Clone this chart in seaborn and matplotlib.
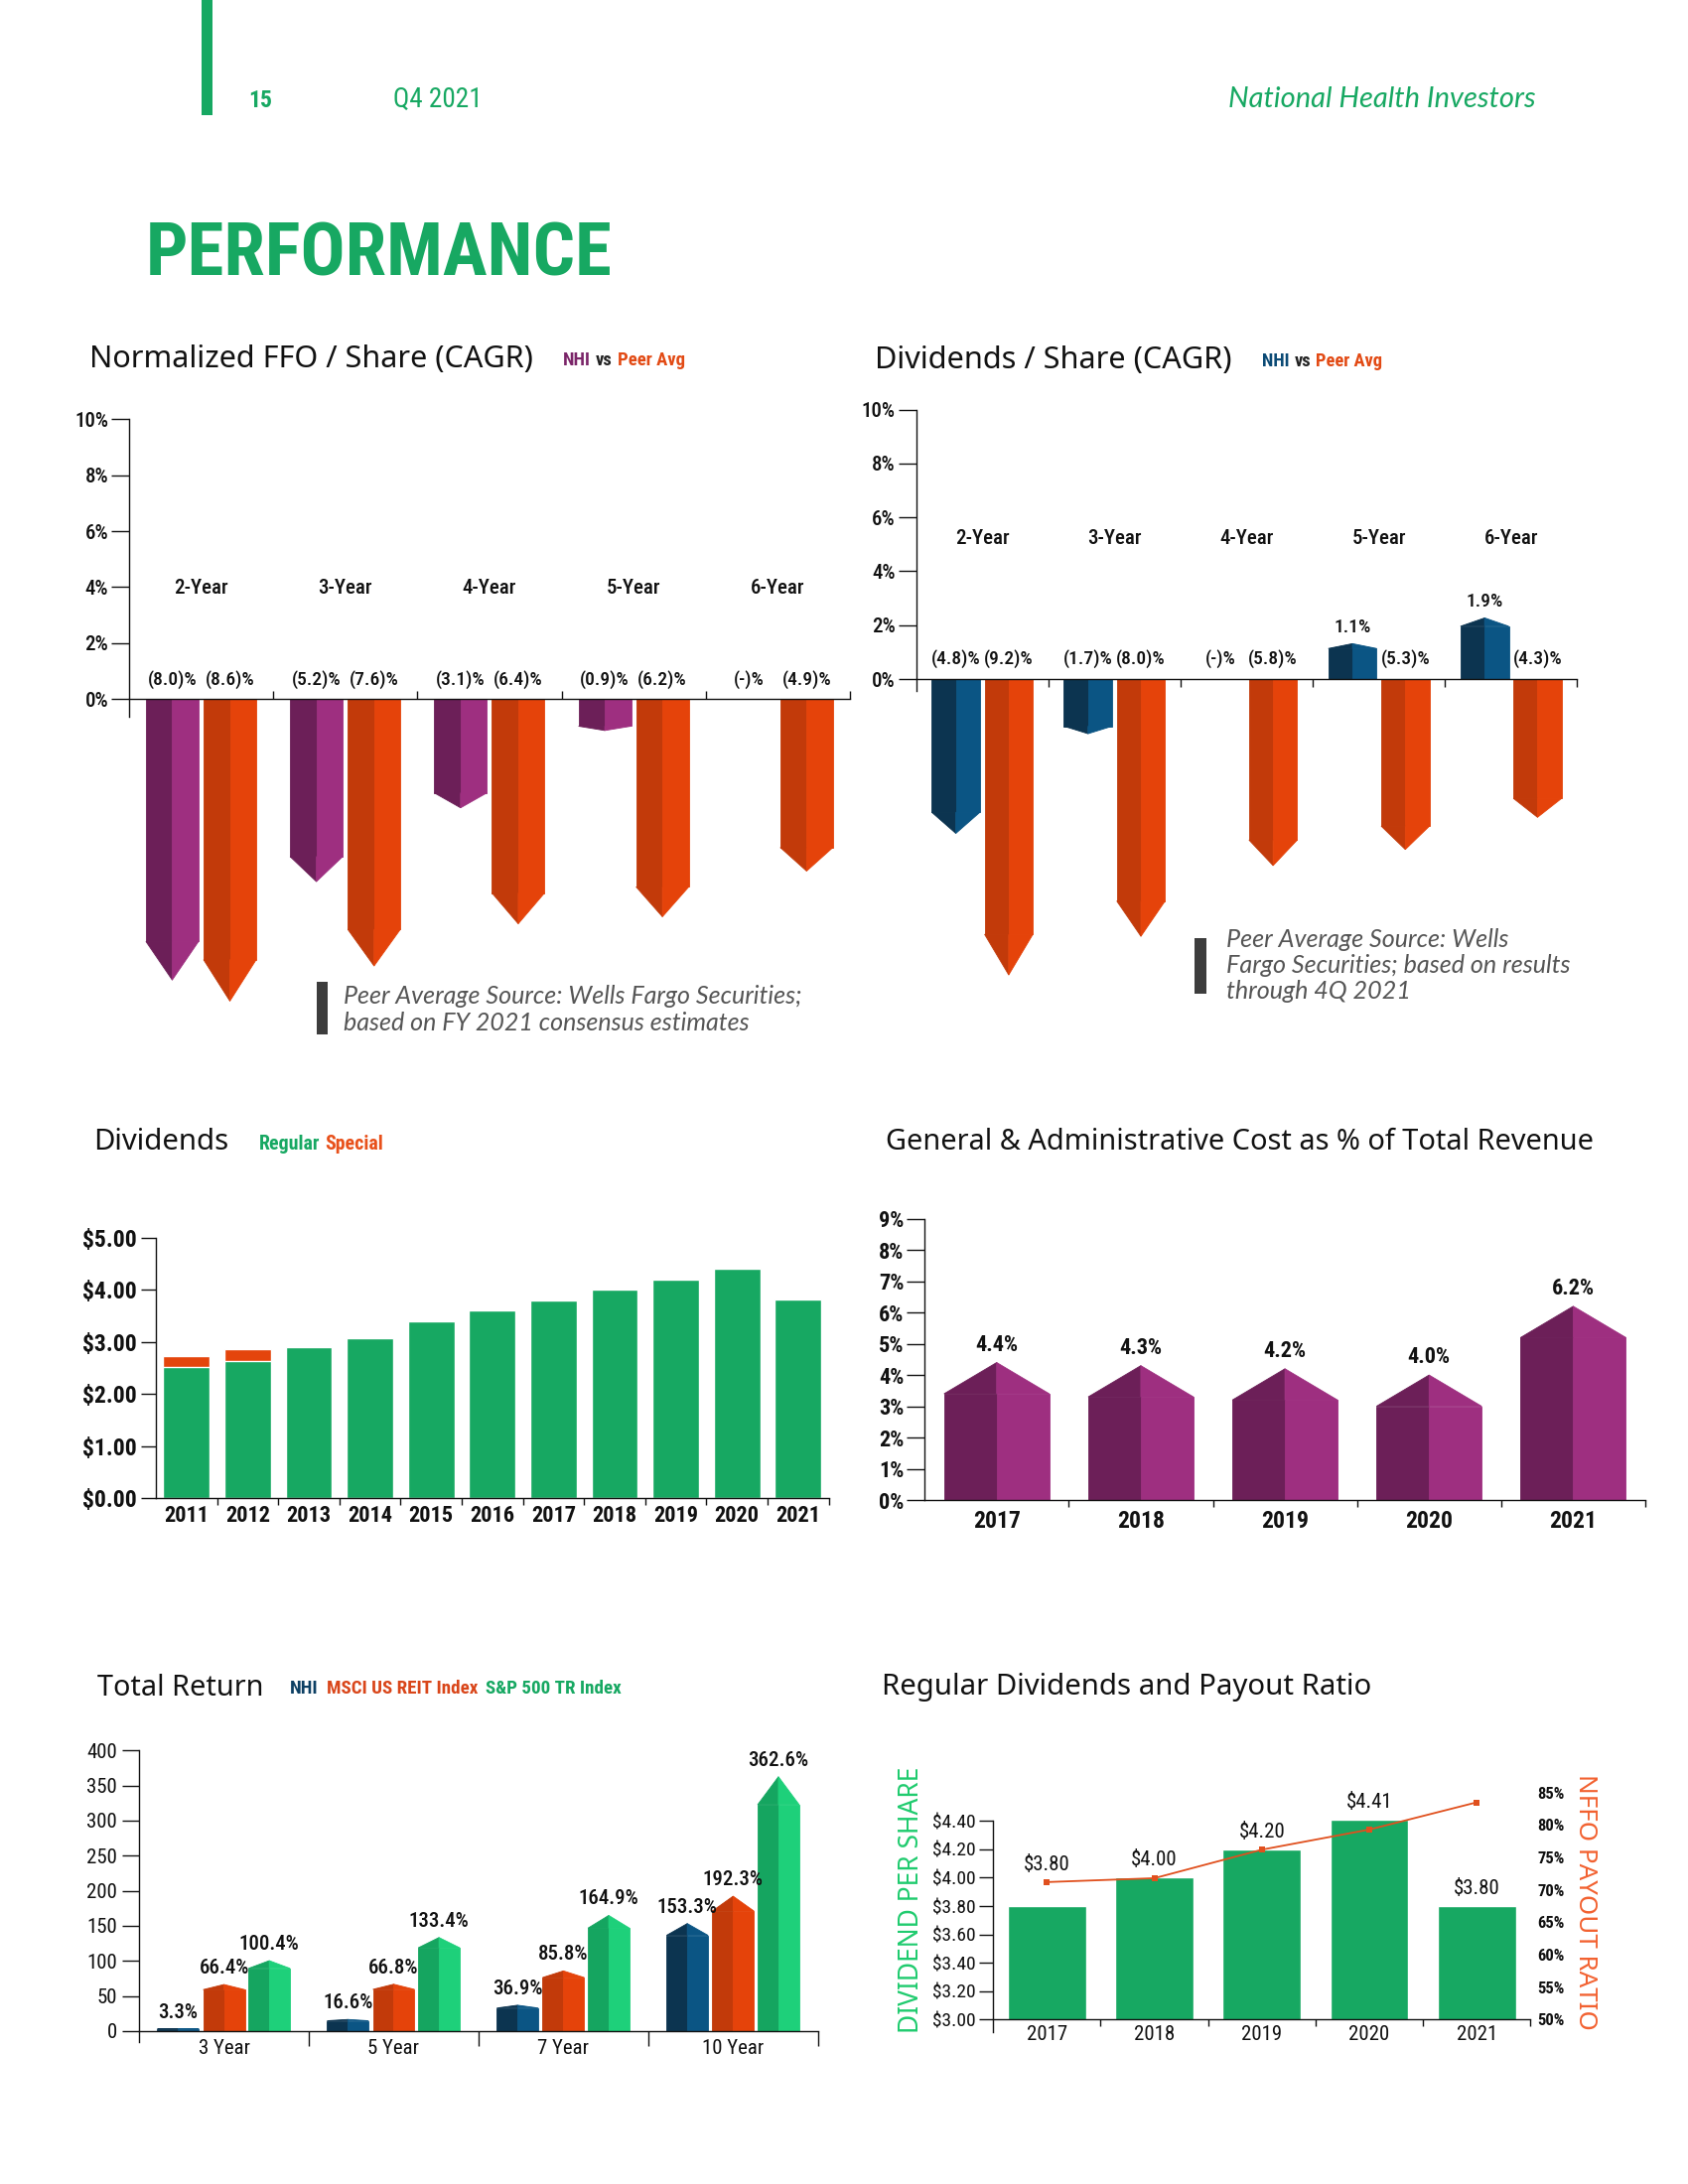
import numpy as np
import pandas as pd
import seaborn as sns
import matplotlib.pyplot as plt
from matplotlib.patches import Rectangle

# ---------------- data ----------------
periods = ["2-Year", "3-Year", "4-Year", "5-Year", "6-Year"]
ffo_nhi = [-8.0, -5.2, -3.1, -0.9, 0.0]
ffo_peer = [-8.6, -7.6, -6.4, -6.2, -4.9]
dps_nhi = [-4.8, -1.7, 0.0, 1.1, 1.9]
dps_peer = [-9.2, -8.0, -5.8, -5.3, -4.3]
cagr_ticks = [0, 2, 4, 6, 8, 10]

div_years = ["2011", "2012", "2013", "2014", "2015", "2016", "2017", "2018", "2019", "2020", "2021"]
div_regular = [2.52, 2.64, 2.90, 3.08, 3.40, 3.60, 3.80, 4.00, 4.20, 4.41, 3.81]
div_special = [0.22, 0.23, 0, 0, 0, 0, 0, 0, 0, 0, 0]

ga_years = ["2017", "2018", "2019", "2020", "2021"]
ga_pct = [4.4, 4.3, 4.2, 4.0, 6.2]

tr_periods = ["3 Year", "5 Year", "7 Year", "10 Year"]
tr_nhi = [3.3, 16.6, 36.9, 153.3]
tr_reit = [66.4, 66.8, 85.8, 192.3]
tr_sp500 = [100.4, 133.4, 164.9, 362.6]

reg_years = ["2017", "2018", "2019", "2020", "2021"]
reg_div = [3.80, 4.00, 4.20, 4.41, 3.80]
payout = [71.2, 71.8, 76.2, 79.3, 83.5]

# ---------------- colours ----------------
GREEN = "#17A862"
SPECIAL = "#E4450C"
PURPLE = ("#6C1F58", "#9E2F80")
ORANGE = ("#C23A0A", "#E5430A")
BLUE = ("#0C3450", "#0B5584")
SPGREEN = ("#15A560", "#1ED07A")
INK = "#111111"

sns.set_style("ticks")
NARROW = ["Roboto Condensed", "Liberation Sans Narrow", "Roboto", "DejaVu Sans"]
plt.rcParams["font.family"] = NARROW
plt.rcParams["axes.edgecolor"] = INK
plt.rcParams["axes.linewidth"] = 1.0
plt.rcParams["xtick.color"] = INK
plt.rcParams["ytick.color"] = INK
plt.rcParams["text.color"] = INK
plt.rcParams["axes.facecolor"] = "none"

TITLE_FONT = ["Noto Sans", "DejaVu Sans"]
NOTE_FONT = ["Lato", "DejaVu Sans"]

W, H = 1700, 2200
fig = plt.figure(figsize=(17, 22), dpi=100)
fig.patch.set_facecolor("white")
renderer = fig.canvas.get_renderer()


def box(x0, y0, x1, y1):
    return [x0 / W, 1 - y1 / H, (x1 - x0) / W, (y1 - y0) / H]


def ftext(x, y, s, **kw):
    return fig.text(x / W, 1 - y / H, s, **kw)


def fit(t, target, along="width"):
    bb = t.get_window_extent(renderer)
    cur = bb.width if along == "width" else bb.height
    t.set_fontsize(t.get_fontsize() * target / cur)


def legend_row(x, y, parts, target, gap=5):
    texts = [ftext(x, y, s, color=c, fontsize=14, weight="bold", va="center") for s, c in parts]
    widths = [t.get_window_extent(renderer).width for t in texts]
    k = (target - gap * (len(texts) - 1)) / sum(widths)
    for t in texts:
        t.set_fontsize(14 * k)
        t.set_x(x / W)
        x += t.get_window_extent(renderer).width + gap


def title(x, y, s, width):
    t = ftext(x, y, s, fontsize=18, family=TITLE_FONT, va="center", color=INK)
    fit(t, width)


def arrow_bars(ax, xs, vals, width, tip, colors):
    # two-tone bar with a pointed end; apex sits at the value
    vals = np.asarray(vals, dtype=float)
    body = vals - tip(vals)
    body[vals == 0] = 0
    for dx, c in ((-width / 4, colors[0]), (width / 4, colors[1])):
        ax.bar(xs + dx, body, width=width / 2, color=c, edgecolor=c, linewidth=0.6)
    for x, v, b in zip(xs, vals, body):
        if v == 0:
            continue
        ax.fill([x - width / 2, x, x], [b, v, b], color=colors[0], linewidth=0.6)
        ax.fill([x, x, x + width / 2], [b, v, b], color=colors[1], linewidth=0.6)


def bold_ticks(ax, axis="both"):
    labels = []
    if axis in ("both", "x"):
        labels += ax.get_xticklabels()
    if axis in ("both", "y"):
        labels += ax.get_yticklabels()
    for lbl in labels:
        lbl.set_fontweight("bold")


def cagr_chart(x0, x1, y10, y0, ybot, bar_scale, ybar_bot, nhi, peer, nhi_colors,
               tick_dir, label_y, group_y):
    s = (y0 - y10) / 10
    xs = np.arange(len(periods))
    axb = fig.add_axes(box(x0, y10, x1, ybar_bot))
    axb.set_xlim(-0.5, 4.5)
    axb.set_ylim(-(ybar_bot - y0) / bar_scale, (y0 - y10) / bar_scale)
    axb.axis("off")
    arrow_bars(axb, xs - 0.2, nhi, 0.365, lambda v: 0.137 * v, nhi_colors)
    arrow_bars(axb, xs + 0.2, peer, 0.365, lambda v: 0.137 * v, ORANGE)

    ax = fig.add_axes(box(x0, y10, x1, ybot))
    ax.set_xlim(-0.5, 4.5)
    ax.set_ylim(-(ybot - y0) / s, 10)
    ax.spines[["top", "right"]].set_visible(False)
    ax.spines["bottom"].set_position(("data", 0))
    ax.set_yticks(cagr_ticks, [f"{t}%" for t in cagr_ticks])
    ax.set_xticks([])
    ax.set_xticks(xs + 0.5, minor=True)
    ax.tick_params(axis="y", length=13, width=1, pad=2, labelsize=15)
    ax.tick_params(axis="x", which="minor", length=6, width=1, direction=tick_dir)
    for lbl in ax.get_yticklabels():
        lbl.set_fontweight("medium")
    for x, p in zip(xs, periods):
        ax.text(x, group_y, p, ha="center", va="center", fontsize=15, weight="medium")
    for off, vals in ((-0.2, nhi), (0.2, peer)):
        for x, v in zip(xs + off, vals):
            if v > 0:
                axb.annotate(f"{v:.1f}%", (x, v), xytext=(0, 5), textcoords="offset points",
                             ha="center", va="bottom", fontsize=14, weight="medium")
            else:
                txt = "(-)%" if v == 0 else f"({-v:.1f})%"
                ax.text(x, label_y, txt, ha="center", va="center", fontsize=14, weight="medium")


# ---------------- header ----------------
fig.add_artist(Rectangle((203 / W, 1 - 116 / H), 11 / W, 116 / H, transform=fig.transFigure,
                         color=GREEN, linewidth=0))
t = ftext(250, 101, "15", color=GREEN, fontsize=17, weight="bold", va="center")
fit(t, 24)
t = ftext(396, 100, "Q4 2021", color=GREEN, fontsize=17, va="center")
fit(t, 90)
t = ftext(1237, 100, "National Health Investors", color=GREEN, fontsize=17, style="italic",
          family=NOTE_FONT, va="center")
fit(t, 310)
t = ftext(147, 258, "PERFORMANCE", color=GREEN, fontsize=60, weight="bold", va="center")
fit(t, 470)

# ---------------- Normalized FFO / Share ----------------
title(90, 362, "Normalized FFO / Share (CAGR)", 446)
legend_row(567, 363, [("NHI", "#7A2468"), ("vs", "#222222"), ("Peer Avg", "#E24A14")], 123)
cagr_chart(129.9, 855.9, 422.4, 704, 722, 35.4, 1060, ffo_nhi, ffo_peer, PURPLE,
           "in", 0.68, 3.96)
fig.add_artist(Rectangle((318.7 / W, 1 - 1042 / H), 11 / W, 53 / H, transform=fig.transFigure,
                         color="#3D3D3D", linewidth=0))
n1 = ftext(346, 1004, "Peer Average Source: Wells Fargo Securities;", color="#555555",
           fontsize=15, style="italic", family=NOTE_FONT, va="center")
fit(n1, 463)
ftext(346, 1031, "based on FY 2021 consensus estimates", color="#555555",
      fontsize=n1.get_fontsize(), style="italic", family=NOTE_FONT, va="center")

# ---------------- Dividends / Share ----------------
title(881, 363, "Dividends / Share (CAGR)", 359)
legend_row(1271, 364, [("NHI", "#0B4A75"), ("vs", "#222222"), ("Peer Avg", "#E24A14")], 122)
cagr_chart(922.7, 1588.4, 412.6, 684, 696, 32.4, 1010, dps_nhi, dps_peer, BLUE,
           "out", 0.74, 5.2)
fig.add_artist(Rectangle((1202.8 / W, 1 - 1000.5 / H), 11.8 / W, 55.8 / H, transform=fig.transFigure,
                         color="#3D3D3D", linewidth=0))
n2 = ftext(1235, 973, "Fargo Securities; based on results", color="#555555",
           fontsize=15, style="italic", family=NOTE_FONT, va="center")
fit(n2, 348)
for yy, line in ((947, "Peer Average Source: Wells"), (999, "through 4Q 2021")):
    ftext(1235, yy, line, color="#555555", fontsize=n2.get_fontsize(), style="italic",
          family=NOTE_FONT, va="center")

# ---------------- Dividends ----------------
title(94, 1151, "Dividends", 136)
legend_row(261, 1152, [("Regular", GREEN), ("Special", "#E8501A")], 126)
ax = fig.add_axes(box(157, 1247, 834.5, 1509.3))
div_df = pd.DataFrame({"year": div_years, "regular": div_regular,
                       "total": np.add(div_regular, div_special)})
sns.barplot(data=div_df, x="year", y="total", color=SPECIAL, width=0.76, saturation=1,
            errorbar=None, ax=ax)
sns.barplot(data=div_df, x="year", y="regular", color=GREEN, width=0.76, saturation=1,
            errorbar=None, ax=ax)
ax.set_xlim(-0.5, 10.5)
ax.set_ylim(0, 5)
ax.set_yticks(np.arange(6), [f"${v:.2f}" for v in range(6)])
ax.set_xlabel("")
ax.set_ylabel("")
ax.set_xticks(np.arange(0.5, 11, 1), minor=True)
ax.tick_params(axis="x", which="major", length=0, pad=5, labelsize=16)
ax.tick_params(axis="x", which="minor", length=5, width=1, direction="out")
ax.tick_params(axis="y", length=11, width=1, pad=3, labelsize=17)
bold_ticks(ax)
sns.despine(ax=ax)

# ---------------- G&A ----------------
title(892, 1151, "General & Administrative Cost as % of Total Revenue", 711)
ax = fig.add_axes(box(931.2, 1227.7, 1657, 1511))
xs = np.arange(len(ga_years))
arrow_bars(ax, xs, ga_pct, 0.73, lambda v: np.ones_like(v), PURPLE)
ax.set_xlim(-0.5, 4.5)
ax.set_ylim(0, 9)
ax.set_yticks(np.arange(10), [f"{v}%" for v in range(10)])
ax.set_xticks(xs, ga_years)
ax.set_xticks(xs + 0.5, minor=True)
ax.tick_params(axis="x", which="major", length=0, pad=7, labelsize=17)
ax.tick_params(axis="x", which="minor", length=5, width=1, direction="out")
ax.tick_params(axis="y", length=13, width=1, pad=2, labelsize=16)
bold_ticks(ax)
for x, v in zip(xs, ga_pct):
    ax.annotate(f"{v:.1f}%", (x, v), xytext=(0, 5), textcoords="offset points",
                ha="center", va="bottom", fontsize=16, weight="bold")
sns.despine(ax=ax)

# ---------------- Total Return ----------------
title(98, 1700, "Total Return", 167)
legend_row(292, 1701, [("NHI", "#0C3F63"), ("MSCI US REIT Index", "#D9461A"),
                       ("S&P 500 TR Index", GREEN)], 335, gap=8)
ax = fig.add_axes(box(140.1, 1763.3, 823.8, 2057))
xs = np.arange(len(tr_periods))
tr_offsets = (-0.27, 0.0, 0.267)
for off, vals, cols in zip(tr_offsets, (tr_nhi, tr_reit, tr_sp500), (BLUE, ORANGE, SPGREEN)):
    arrow_bars(ax, xs + off, vals, 0.245, lambda v: 0.11 * v, cols)
    for x, v in zip(xs + off, vals):
        ax.annotate(f"{v:.1f}%", (x, v), xytext=(0, 5), textcoords="offset points",
                    ha="center", va="bottom", fontsize=15, weight="medium")
ax.set_xlim(-0.5, 3.5)
ax.set_ylim(-15.6, 400)
ax.spines[["top", "right"]].set_visible(False)
ax.spines["bottom"].set_position(("data", 0))
ax.set_yticks(np.arange(0, 401, 50))
ax.set_xticks(xs, tr_periods)
ax.set_xticks(xs + 0.5, minor=True)
ax.tick_params(axis="x", which="major", length=0, pad=6, labelsize=15)
ax.tick_params(axis="x", which="minor", length=11, width=1, direction="out")
ax.tick_params(axis="y", length=12, width=1, pad=4, labelsize=15)

# ---------------- Regular Dividends and Payout Ratio ----------------
title(888, 1699, "Regular Dividends and Payout Ratio", 492)
ax = fig.add_axes(box(1000.3, 1784.3, 1541.3, 2034.3))
sns.barplot(x=reg_years, y=reg_div, color=GREEN, width=0.73, saturation=1, errorbar=None, ax=ax)
ax.set_xlim(-0.5, 4.5)
ax.set_ylim(3.0, 4.75)
ax.set_yticks(np.arange(3.0, 4.41, 0.2), [f"${v:.2f}" for v in np.arange(3.0, 4.41, 0.2)])
ax.set_xticks(np.arange(0.5, 5, 1), minor=True)
ax.tick_params(axis="x", which="major", length=0, pad=4, labelsize=15)
ax.tick_params(axis="x", which="minor", length=5, width=1, direction="out")
ax.tick_params(axis="y", length=10, width=1, pad=3, labelsize=14)
ax.spines[["top", "right"]].set_visible(False)
ax.spines["left"].set_bounds(2.913, 4.40)

ax2 = ax.twinx()
sns.lineplot(x=np.arange(len(reg_years)), y=payout, ax=ax2, color="#E0501E", linewidth=1.3,
             marker="s", markersize=5, markeredgewidth=0)
ax2.set_xlim(-0.5, 4.5)
ax2.set_ylim(50, 50 + 250 / 6.53)
ax2.set_yticks(np.arange(50, 86, 5), [f"{v}%" for v in range(50, 86, 5)])
ax2.tick_params(axis="y", length=0, pad=5, labelsize=12)
for sp in ax2.spines.values():
    sp.set_visible(False)
bold_ticks(ax2, "y")
ax2.set_ylabel("")
ax2.set_xlabel("")

for i, (v, p) in enumerate(zip(reg_div, payout)):
    yb = ax.transData.transform((i, v))[1]
    yl = ax2.transData.transform((i, p))[1]
    # lift the label over the payout marker only when the marker sits just above the bar
    top = yl if 0 < yl - yb < 40 else yb
    yd = ax.transData.inverted().transform((0, top))[1]
    ax.annotate(f"${v:.2f}", (i, yd), xytext=(0, 6), textcoords="offset points",
                ha="center", va="bottom", fontsize=15)

t = ftext(918, 1914, "DIVIDEND PER SHARE", rotation=90, color="#1FCB6E", weight="bold",
          family=TITLE_FONT, fontsize=14, ha="center", va="center")
fit(t, 268, along="height")
t = ftext(1597, 1916, "NFFO PAYOUT RATIO", rotation=270, color="#F26130", weight="bold",
          family=TITLE_FONT, fontsize=14, ha="center", va="center")
fit(t, 258, along="height")

fig.savefig("out.png", dpi=100)
